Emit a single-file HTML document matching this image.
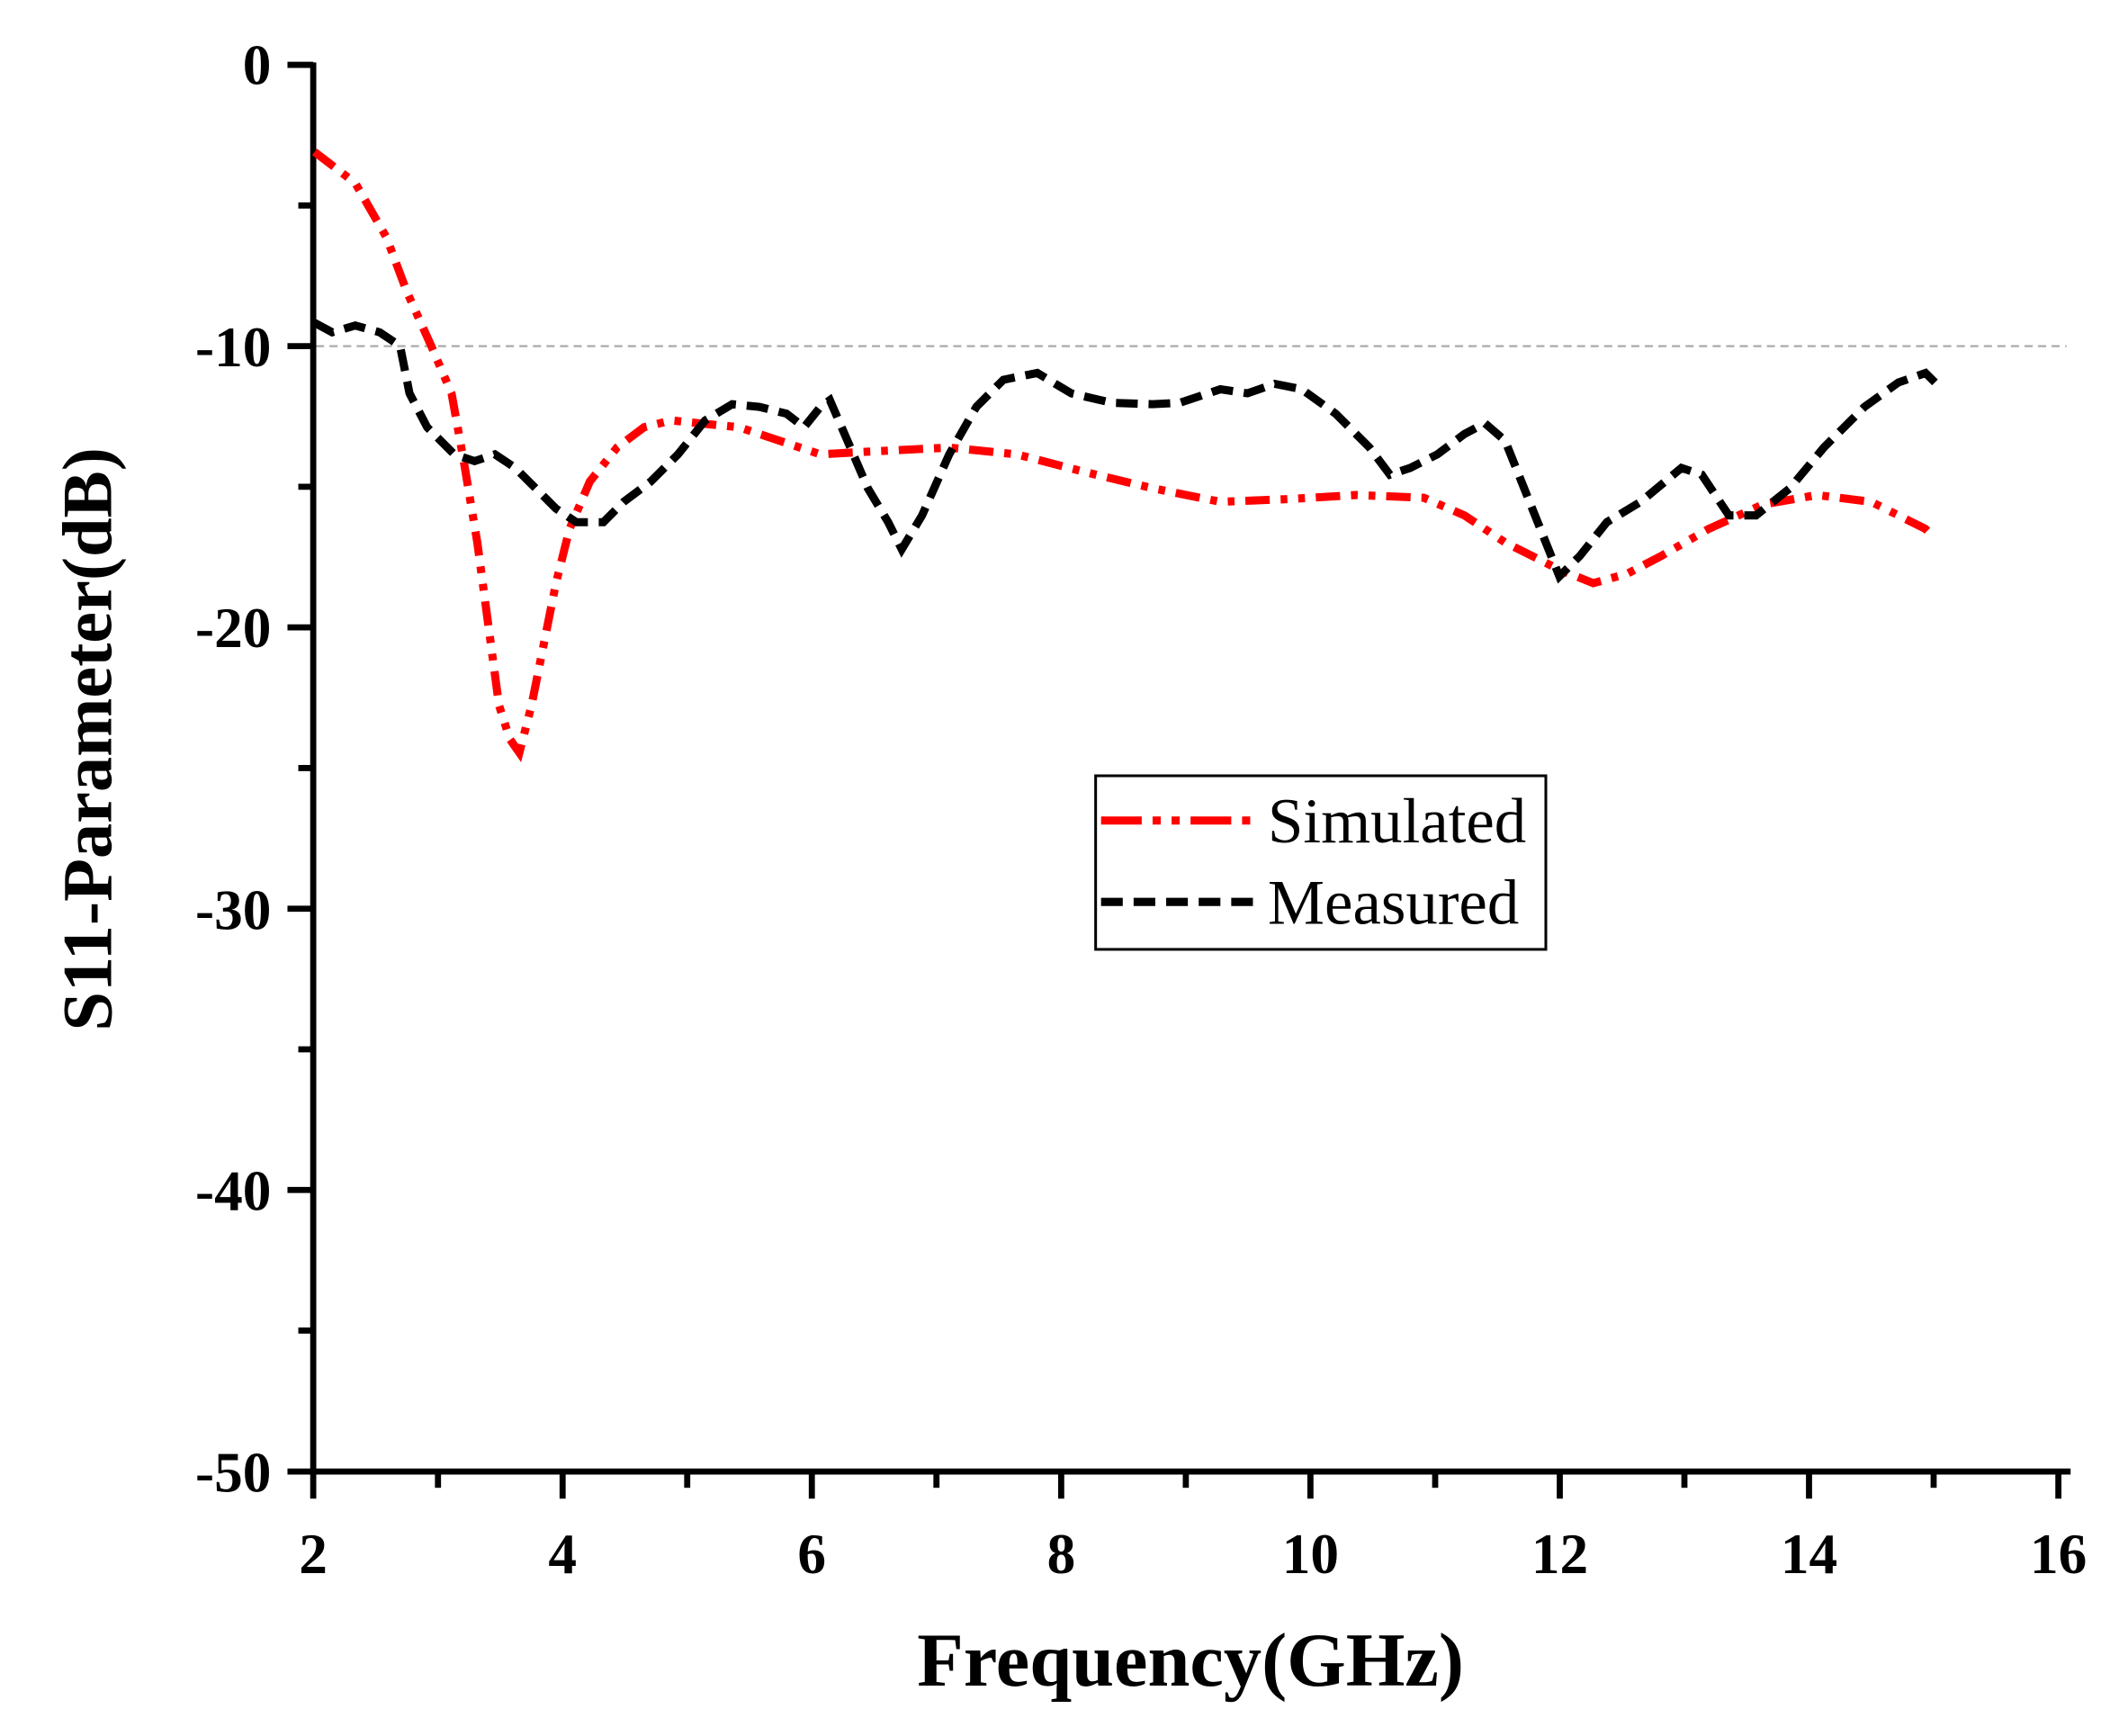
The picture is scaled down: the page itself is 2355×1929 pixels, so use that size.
<!DOCTYPE html>
<html><head><style>html,body{margin:0;padding:0;background:#fff}svg{display:block}</style></head>
<body>
<svg width="2355" height="1929" viewBox="0 0 1562.7 1280" xmlns="http://www.w3.org/2000/svg" font-family="Liberation Serif, serif">
<rect width="1562.7" height="1280" fill="#fff"/>
<line x1="233" y1="255.2" x2="1524" y2="255.2" stroke="#aaa" stroke-width="1.5" stroke-dasharray="6,4"/>
<g stroke="#000" stroke-width="4.5" fill="none">
<line x1="231" y1="46" x2="231" y2="1087"/>
<line x1="229" y1="1085" x2="1527" y2="1085"/>
<line x1="212" y1="47.8" x2="231" y2="47.8"/>
<line x1="212" y1="255.2" x2="231" y2="255.2"/>
<line x1="212" y1="462.6" x2="231" y2="462.6"/>
<line x1="212" y1="670" x2="231" y2="670"/>
<line x1="212" y1="877.4" x2="231" y2="877.4"/>
<line x1="212" y1="1085" x2="231" y2="1085"/>
<line x1="220" y1="151.5" x2="231" y2="151.5"/>
<line x1="220" y1="358.9" x2="231" y2="358.9"/>
<line x1="220" y1="566.3" x2="231" y2="566.3"/>
<line x1="220" y1="773.7" x2="231" y2="773.7"/>
<line x1="220" y1="981.1" x2="231" y2="981.1"/>
<line x1="231" y1="1085" x2="231" y2="1105"/>
<line x1="414.9" y1="1085" x2="414.9" y2="1105"/>
<line x1="598.7" y1="1085" x2="598.7" y2="1105"/>
<line x1="782.6" y1="1085" x2="782.6" y2="1105"/>
<line x1="966.4" y1="1085" x2="966.4" y2="1105"/>
<line x1="1150.3" y1="1085" x2="1150.3" y2="1105"/>
<line x1="1334.1" y1="1085" x2="1334.1" y2="1105"/>
<line x1="1518" y1="1085" x2="1518" y2="1105"/>
<line x1="323" y1="1085" x2="323" y2="1097"/>
<line x1="506.8" y1="1085" x2="506.8" y2="1097"/>
<line x1="690.6" y1="1085" x2="690.6" y2="1097"/>
<line x1="874.5" y1="1085" x2="874.5" y2="1097"/>
<line x1="1058.4" y1="1085" x2="1058.4" y2="1097"/>
<line x1="1242.2" y1="1085" x2="1242.2" y2="1097"/>
<line x1="1426" y1="1085" x2="1426" y2="1097"/>
</g>
<g font-size="42" font-weight="bold" text-anchor="end">
<text x="200" y="62">0</text>
<text x="200" y="270">-10</text>
<text x="200" y="477">-20</text>
<text x="200" y="685">-30</text>
<text x="200" y="892">-40</text>
<text x="200" y="1100">-50</text>
</g>
<g font-size="42" font-weight="bold" text-anchor="middle">
<text x="231" y="1160">2</text>
<text x="414.9" y="1160">4</text>
<text x="598.7" y="1160">6</text>
<text x="782.6" y="1160">8</text>
<text x="966.4" y="1160">10</text>
<text x="1150.3" y="1160">12</text>
<text x="1334.1" y="1160">14</text>
<text x="1518" y="1160">16</text>
</g>
<text x="878" y="1243" font-size="56" font-weight="bold" text-anchor="middle">Frequency(GHz)</text>
<text transform="translate(82,545) rotate(-90)" font-size="52" font-weight="bold" text-anchor="middle">S11-Parameter(dB)</text>
<polyline fill="none" stroke="#f00" stroke-width="6" stroke-dasharray="18,8,5,8,5,8" points="232,112 262,135 285,175 300,215 318,255 333,290 342,340 352,400 360,460 368,520 376,545 383,555 392,520 400,480 410,430 420,390 435,355 455,330 475,315 495,310 515,312 545,315 575,325 605,335 640,333 700,330 750,335 800,348 850,360 900,370 950,368 1000,365 1050,367 1080,380 1110,400 1150,420 1175,430 1200,423 1225,410 1260,390 1300,372 1340,365 1380,370 1420,390 1425,395"/>
<polyline fill="none" stroke="#000" stroke-width="6" stroke-dasharray="16,8" points="232,238 245,245 262,240 280,245 295,255 302,290 315,315 335,335 350,340 365,335 380,345 395,360 410,375 425,385 445,385 460,370 480,355 500,335 520,310 540,298 560,300 580,305 593,315 605,300 612,295 625,325 640,360 655,385 665,405 680,380 700,335 720,300 740,280 765,275 790,290 820,297 850,298 870,297 900,287 920,290 940,283 960,287 985,305 1010,330 1025,350 1040,345 1060,335 1080,320 1095,312 1110,325 1130,375 1150,425 1165,410 1185,385 1210,370 1240,345 1255,350 1275,380 1295,380 1320,360 1345,330 1375,300 1400,282 1420,275 1430,285"/>
<rect x="808" y="572" width="332" height="128" fill="#fff" stroke="#000" stroke-width="2"/>
<line x1="812" y1="605" x2="925" y2="605" stroke="#f00" stroke-width="6" stroke-dasharray="30,8,6,8,6,8"/>
<line x1="812" y1="665" x2="925" y2="665" stroke="#000" stroke-width="6" stroke-dasharray="16,8"/>
<text x="935" y="621" font-size="47">Simulated</text>
<text x="935" y="681" font-size="47">Measured</text>
</svg>
</body></html>
